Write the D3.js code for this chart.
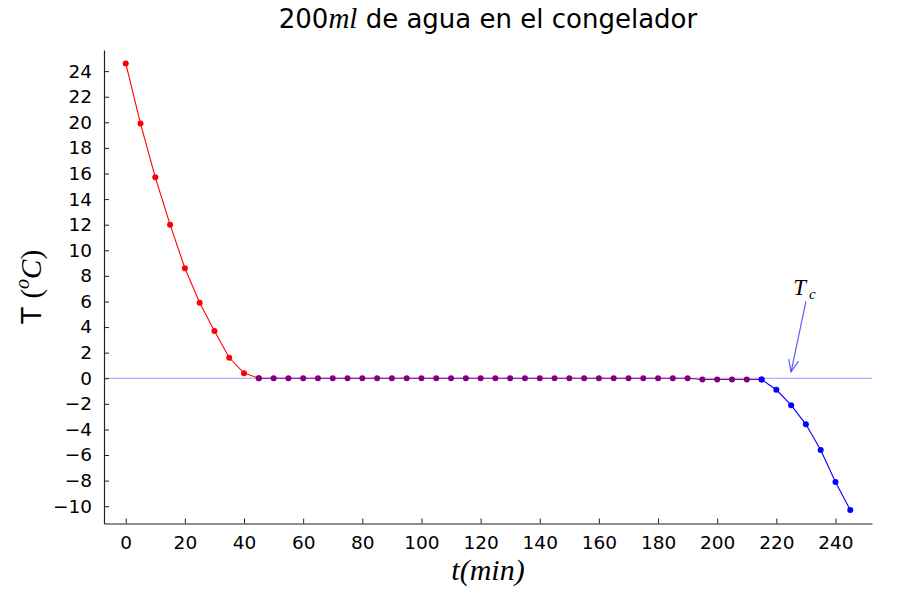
<!DOCTYPE html>
<html><head><meta charset="utf-8">
<script src="https://cdn.jsdelivr.net/npm/d3@7"></script>
<style>body{margin:0;background:#fff}svg{display:block}</style>
</head><body>
<script>
// Data
const redT = [0,5,10,15,20,25,30,35,40,45];
const redV = [24.6,19.9,15.7,12.0,8.6,5.9,3.7,1.6,0.4,0];
const purpleT = [45,50,55,60,65,70,75,80,85,90,95,100,105,110,115,120,125,130,135,140,145,150,155,160,165,170,175,180,185,190,195,200,205,210,215];
const purpleV = [0,0,0,0,0,0,0,0,0,0,0,0,0,0,0,0,0,0,0,0,0,0,0,0,0,0,0,0,0,0,-0.1,-0.1,-0.1,-0.1,-0.1];
const blueT = [215,220,225,230,235,240,245];
const blueV = [-0.1,-0.9,-2.1,-3.6,-5.6,-8.1,-10.3];
const xTicks = [0,20,40,60,80,100,120,140,160,180,200,220,240];
const yTicks = [-10,-8,-6,-4,-2,0,2,4,6,8,10,12,14,16,18,20,22,24];
const hlineY = [0];
const arrowFrom = [230, 6.0];
const arrowTo = [225, 0.5];
const annot = {x: 229.5, y: 7.0};

(function(){
const W = 900, H = 600;
const pL = 104, pR = 872, pT = 50, pB = 523.5;
const x = d3.scaleLinear().domain([-7.35, 252.35]).range([pL, pR]);
const y = d3.scaleLinear().domain([-11.35, 25.65]).range([pB, pT]);

const svg = d3.select("body").append("svg").attr("width", W).attr("height", H);

// hline
svg.selectAll(".hl").data(hlineY).enter().append("line")
  .attr("x1", pL).attr("x2", pR).attr("y1", d => y(d)).attr("y2", d => y(d))
  .attr("stroke", "rgba(0,0,255,0.4)").attr("stroke-width", 1.2);

function series(T, V, color) {
  const pts = T.map((t, i) => [t, V[i]]);
  svg.append("path").datum(pts)
    .attr("d", d3.line().x(d => x(d[0])).y(d => y(d[1])))
    .attr("fill", "none").attr("stroke", color).attr("stroke-width", 1.1);
  svg.append("g").selectAll("circle").data(pts).enter().append("circle")
    .attr("cx", d => x(d[0])).attr("cy", d => y(d[1])).attr("r", 3)
    .attr("fill", color);
}
series(redT, redV, "#ff0000");
series(purpleT, purpleV, "#800080");
series(blueT, blueV, "#0000ff");

// Axes
const xAxis = d3.axisBottom(x).tickValues(xTicks).tickSizeInner(-5).tickSizeOuter(0).tickPadding(12)
  .tickFormat(d => d3.format("d")(d));
const gx = svg.append("g").attr("transform", `translate(0,${pB})`).call(xAxis);
const yAxis = d3.axisLeft(y).tickValues(yTicks).tickSizeInner(-5).tickSizeOuter(0).tickPadding(12)
  .tickFormat(d => d < 0 ? "\u2212" + Math.abs(d) : String(d));
const gy = svg.append("g").attr("transform", `translate(${pL},0)`).call(yAxis);
[gx, gy].forEach(g => {
  g.select(".domain").attr("stroke", "#222").attr("stroke-width", 1.2);
  g.selectAll(".tick line").attr("stroke", "#222").attr("stroke-width", 1);
  g.selectAll(".tick text").attr("font-family", "DejaVu Sans").attr("font-size", 18.5).attr("fill", "#000");
});

// arrow
const ax1 = x(arrowFrom[0]), ay1 = y(arrowFrom[1]), ax2 = x(arrowTo[0]), ay2 = y(arrowTo[1]);
const ang = Math.atan2(ay2 - ay1, ax2 - ax1);
const hl = 13, ha = 0.4;
const ac = "rgba(40,40,255,0.75)";
svg.append("line").attr("x1", ax1).attr("y1", ay1).attr("x2", ax2).attr("y2", ay2)
  .attr("stroke", ac).attr("stroke-width", 1.2);
svg.append("path")
  .attr("d", `M${ax2 - hl*Math.cos(ang - ha)},${ay2 - hl*Math.sin(ang - ha)}L${ax2},${ay2}L${ax2 - hl*Math.cos(ang + ha)},${ay2 - hl*Math.sin(ang + ha)}`)
  .attr("fill", "none").attr("stroke", ac).attr("stroke-width", 1.2);

// Tc annotation
const tc = svg.append("text").attr("x", x(annot.x)).attr("y", y(annot.y) + 6)
  .attr("text-anchor", "middle").attr("font-family", "Liberation Serif").attr("font-style", "italic")
  .attr("font-size", 23);
tc.append("tspan").text("T");
tc.append("tspan").attr("font-size", 15).attr("dy", 4).attr("dx", 3).text("c");

// Title
const title = svg.append("text").attr("x", (pL + pR) / 2).attr("y", 28)
  .attr("text-anchor", "middle").attr("font-family", "DejaVu Sans").attr("font-size", 26);
title.append("tspan").text("200");
title.append("tspan").attr("font-family", "Liberation Serif").attr("font-style", "italic").attr("font-size", 29).text("ml");
title.append("tspan").text(" de agua en el congelador");

// X label
svg.append("text").attr("x", (pL + pR) / 2).attr("y", 580)
  .attr("text-anchor", "middle").attr("font-family", "Liberation Serif").attr("font-style", "italic")
  .attr("font-size", 30).text("t(min)");

// Y label
const yl = svg.append("text").attr("transform", `translate(41,${(pT + pB) / 2}) rotate(-90)`)
  .attr("text-anchor", "middle").attr("font-size", 27);
yl.append("tspan").attr("font-family", "DejaVu Sans").text("T ");
yl.append("tspan").attr("font-family", "Liberation Serif").attr("font-size", 29).text("(");
yl.append("tspan").attr("font-family", "Liberation Serif").attr("font-style", "italic").attr("font-size", 20).attr("dy", -12).text("o");
yl.append("tspan").attr("font-family", "Liberation Serif").attr("font-style", "italic").attr("font-size", 29).attr("dy", 12).text("C");
yl.append("tspan").attr("font-family", "Liberation Serif").attr("font-size", 29).text(")");
})();
</script>
</body></html>
